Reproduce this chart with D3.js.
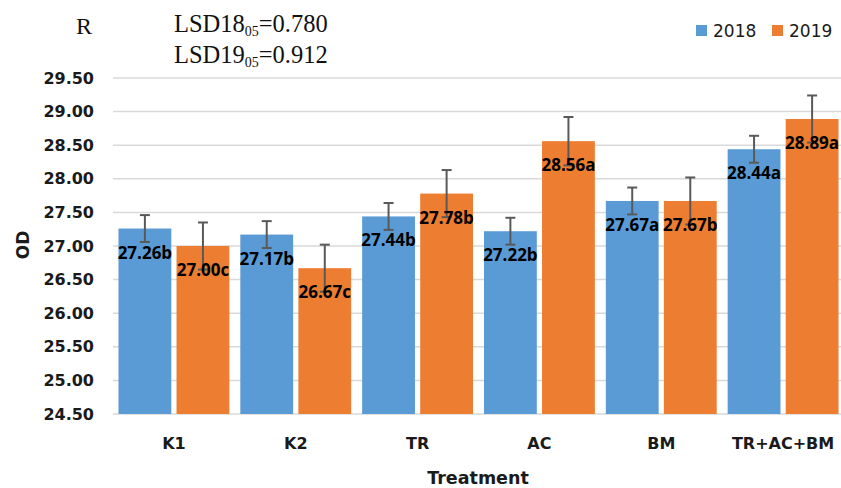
<!DOCTYPE html>
<html><head><meta charset="utf-8">
<script src="https://cdn.jsdelivr.net/npm/d3@7"></script>
<style>body{margin:0;background:#fff}svg{display:block}</style>
</head><body>
<svg id="c" width="841" height="488"></svg>
<script>
const categories = ["K1","K2","TR","AC","BM","TR+AC+BM"];
const series = ["2018","2019"];
const values2018 = [27.26,27.17,27.44,27.22,27.67,28.44];
const values2019 = [27.00,26.67,27.78,28.56,27.67,28.89];
const letters2018 = ["b","b","b","b","a","a"];
const letters2019 = ["c","c","b","a","b","a"];
const err2018 = [0.20,0.20,0.20,0.20,0.20,0.20];
const err2019 = [0.35,0.35,0.35,0.36,0.35,0.35];
const yTicks = [24.5,25,25.5,26,26.5,27,27.5,28,28.5,29,29.5];
const colors = {"2018":"#5B9BD5","2019":"#ED7D31"};

const svg = d3.select("#c");
const x0 = d3.scaleBand().domain(categories).range([113,844]).paddingInner(0.09).paddingOuter(0.045);
const x1 = d3.scaleBand().domain(series).range([0,x0.bandwidth()]).paddingInner(0.09);
const y = d3.scaleLinear().domain([24.5,29.5]).range([414,78]);

// gridlines
svg.append("g").selectAll("line").data(yTicks).join("line")
  .attr("x1",113).attr("x2",844).attr("y1",d=>y(d)).attr("y2",d=>y(d))
  .attr("stroke","#d9d9d9").attr("stroke-width",1.5);

// y axis labels
const yAxis = d3.axisLeft(y).tickValues(yTicks).tickFormat(d3.format(".2f")).tickSize(0).tickPadding(19);
const ga = svg.append("g").attr("transform","translate(113,0)").call(yAxis);
ga.select(".domain").remove();
ga.selectAll("text").attr("font-family","DejaVu Sans").attr("font-weight","bold").attr("font-size",16).attr("fill","#1a1a1a");

// x axis labels
const xAxis = d3.axisBottom(x0).tickSize(0).tickPadding(0);
const gx = svg.append("g").attr("transform","translate(0,449)").call(xAxis);
gx.select(".domain").remove();
gx.selectAll("text").attr("dy",0).attr("font-family","DejaVu Sans").attr("font-weight","bold").attr("font-size",16).attr("fill","#1a1a1a");

const rows = [];
categories.forEach((c,i)=>{
  rows.push({c, s:"2018", v:values2018[i], e:err2018[i], l:letters2018[i]});
  rows.push({c, s:"2019", v:values2019[i], e:err2019[i], l:letters2019[i]});
});
const cx = d=>x0(d.c)+x1(d.s)+x1.bandwidth()/2;

svg.append("g").selectAll("rect").data(rows).join("rect")
  .attr("x",d=>x0(d.c)+x1(d.s)).attr("width",x1.bandwidth())
  .attr("y",d=>y(d.v)).attr("height",d=>y(24.5)-y(d.v))
  .attr("fill",d=>colors[d.s]);

// error bars
const eg = svg.append("g").attr("stroke","#595959").attr("stroke-width",2);
rows.forEach(d=>{
  const X = cx(d);
  eg.append("line").attr("x1",X).attr("x2",X).attr("y1",y(d.v+d.e)).attr("y2",y(d.v-d.e));
  eg.append("line").attr("x1",X-5).attr("x2",X+5).attr("y1",y(d.v+d.e)).attr("y2",y(d.v+d.e));
  eg.append("line").attr("x1",X-5).attr("x2",X+5).attr("y1",y(d.v-d.e)).attr("y2",y(d.v-d.e));
});

// data labels
svg.append("g").selectAll("text").data(rows).join("text")
  .attr("x",cx).attr("y",d=>y(d.v)+30).attr("text-anchor","middle")
  .attr("font-family","Open Sans").attr("font-weight","bold").attr("font-size",17).attr("fill","#000")
  .text(d=>d.v.toFixed(2)+d.l);

// axis titles
svg.append("text").attr("x",478).attr("y",484).attr("text-anchor","middle")
  .attr("font-family","DejaVu Sans").attr("font-weight","bold").attr("font-size",17.5).attr("fill","#1a1a1a").text("Treatment");
svg.append("text").attr("transform","translate(28.5,245) rotate(-90)").attr("text-anchor","middle")
  .attr("font-family","DejaVu Sans").attr("font-weight","bold").attr("font-size",17).attr("fill","#1a1a1a").text("OD");

// legend
const lx = [696,772];
series.forEach((s,i)=>{
  svg.append("rect").attr("x",lx[i]).attr("y",25).attr("width",11).attr("height",11).attr("fill",colors[s]);
  svg.append("text").attr("x",lx[i]+17).attr("y",36.7).attr("font-family","DejaVu Sans").attr("font-size",17).attr("fill","#1a1a1a").text(s);
});

// annotations
svg.append("text").attr("x",76).attr("y",34.3).attr("font-family","Liberation Serif").attr("font-size",24).attr("fill","#111").text("R");
const lsd = [["LSD18","05","=0.780",32.3],["LSD19","05","=0.912",63.3]];
lsd.forEach(r=>{
  const t = svg.append("text").attr("x",174).attr("y",r[3]).attr("font-family","Liberation Serif").attr("font-size",24.5).attr("fill","#111");
  t.append("tspan").text(r[0]);
  t.append("tspan").attr("font-size",14).attr("dy",4).text(r[1]);
  t.append("tspan").attr("dy",-4).text(r[2]);
});
</script>
</body></html>
